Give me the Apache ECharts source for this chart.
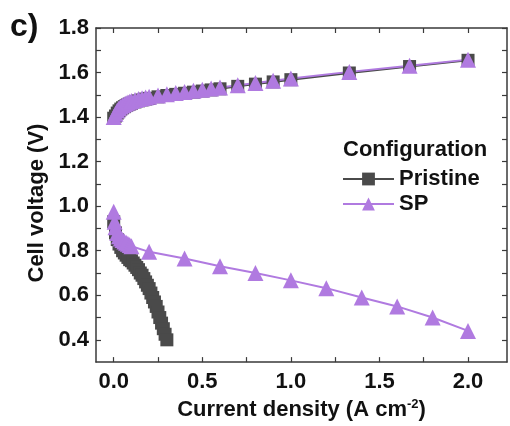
<!DOCTYPE html>
<html>
<head>
<meta charset="utf-8">
<script src="https://cdn.jsdelivr.net/npm/echarts@6/dist/echarts.min.js"></script>
<style>
  html, body { margin: 0; padding: 0; background: #fff; }
  #chart { width: 510px; height: 426px; }
</style>
</head>
<body>
<div id="chart"></div>
<script>
// electrolysis branch (upper curves), both configurations share the currents
const ecCurrent = [0, 0.01, 0.02, 0.03, 0.04, 0.05, 0.06, 0.07, 0.08, 0.09, 0.10, 0.12, 0.14, 0.16, 0.18, 0.20,
  0.25, 0.30, 0.35, 0.40, 0.45, 0.50, 0.55, 0.60, 0.70, 0.80, 0.90, 1.00, 1.33, 1.67, 2.00];
const pristineEcVoltage = [1.395, 1.405, 1.418, 1.428, 1.436, 1.442, 1.447, 1.452, 1.456, 1.459, 1.462, 1.468, 1.473,
  1.477, 1.481, 1.484, 1.491, 1.497, 1.502, 1.507, 1.512, 1.517, 1.522, 1.527, 1.538, 1.548, 1.558, 1.568, 1.598, 1.627, 1.655];
const spEcVoltage = [1.40, 1.415, 1.43, 1.44, 1.447, 1.453, 1.458, 1.462, 1.466, 1.469, 1.472, 1.477, 1.481,
  1.485, 1.488, 1.491, 1.497, 1.503, 1.508, 1.513, 1.518, 1.523, 1.528, 1.533, 1.543, 1.553, 1.563, 1.573, 1.603, 1.630, 1.658];

// fuel cell branch (lower curves)
const pristineFcCurrent = [0, 0.01, 0.02, 0.03, 0.04, 0.05, 0.06, 0.07, 0.08, 0.09, 0.10, 0.11, 0.12, 0.13, 0.14, 0.15,
  0.16, 0.17, 0.18, 0.19, 0.20, 0.21, 0.22, 0.23, 0.24, 0.25, 0.26, 0.27, 0.28, 0.29, 0.30];
const pristineFcVoltage = [0.93, 0.88, 0.85, 0.83, 0.815, 0.80, 0.79, 0.78, 0.77, 0.76, 0.755, 0.745, 0.735, 0.725, 0.715, 0.70,
  0.69, 0.675, 0.66, 0.645, 0.63, 0.61, 0.59, 0.57, 0.55, 0.525, 0.50, 0.475, 0.45, 0.425, 0.40];
const spFcCurrent = [0, 0.005, 0.01, 0.02, 0.03, 0.04, 0.05, 0.06, 0.07, 0.08, 0.09, 0.10,
  0.2, 0.4, 0.6, 0.8, 1.0, 1.2, 1.4, 1.6, 1.8, 2.0];
const spFcVoltage = [0.975, 0.93, 0.905, 0.88, 0.865, 0.855, 0.848, 0.842, 0.836, 0.831, 0.826, 0.82,
  0.795, 0.765, 0.73, 0.70, 0.667, 0.632, 0.59, 0.55, 0.50, 0.44];

const xTickValues = [0, 0.25, 0.5, 0.75, 1.0, 1.25, 1.5, 1.75, 2.0];
const xLabelValues = [0, 0.5, 1.0, 1.5, 2.0];
const yTickValues = [0.4, 0.5, 0.6, 0.7, 0.8, 0.9, 1.0, 1.1, 1.2, 1.3, 1.4, 1.5, 1.6, 1.7, 1.8];
const yLabelValues = [0.4, 0.6, 0.8, 1.0, 1.2, 1.4, 1.6, 1.8];

const FONT = "'Liberation Sans', Arial, sans-serif";
const AXIS_COLOR = "#3a3a3a";
const PRISTINE_COLOR = "#4a4a4a";
const SP_COLOR = "#b07ae0";

const zip = (xs, ys) => xs.map((x, i) => [x, ys[i]]);

function frameAxis(extra) {
  return Object.assign({
    type: "value",
    axisLine: { show: true, onZero: false, lineStyle: { color: AXIS_COLOR, width: 1.5 } },
    splitLine: { show: false },
  }, extra);
}

function ticks(values) {
  return { show: true, inside: true, length: 5, customValues: values, lineStyle: { color: AXIS_COLOR, width: 1.2 } };
}

const chart = echarts.init(document.getElementById("chart"));

chart.setOption({
  animation: false,
  backgroundColor: "#fff",
  grid: { left: 96, right: 3, top: 28, bottom: 63 },
  title: {
    text: "Configuration",
    left: 338,
    top: 134,
    textStyle: { fontFamily: FONT, fontWeight: "bold", fontSize: 22, color: "#111" },
  },
  graphic: [
    {
      type: "text",
      left: 10,
      top: 11,
      style: { text: "c)", font: "bold 32px " + FONT, fill: "#111" },
    },
  ],
  legend: {
    data: ["Pristine", "SP"],
    orient: "vertical",
    left: 337,
    top: 163,
    itemWidth: 51,
    itemHeight: 16,
    itemGap: 3,
    textStyle: { fontFamily: FONT, fontWeight: "bold", fontSize: 22, color: "#111" },
  },
  xAxis: [
    frameAxis({
      position: "bottom",
      min: -0.1,
      max: 2.22,
      name: "Current density (A cm{sup|-2})",
      nameLocation: "middle",
      nameGap: 35,
      nameTextStyle: {
        fontFamily: FONT, fontWeight: "bold", fontSize: 22, color: "#111",
        rich: { sup: { fontFamily: FONT, fontWeight: "bold", fontSize: 13, color: "#111", padding: [0, 0, 11, 0] } },
      },
      axisTick: ticks(xTickValues),
      axisLabel: {
        customValues: xLabelValues,
        margin: 9,
        fontFamily: FONT, fontWeight: "bold", fontSize: 22, color: "#111",
        formatter: (v) => v.toFixed(1),
      },
    }),
    frameAxis({
      position: "top",
      min: -0.1,
      max: 2.22,
      axisTick: ticks(xTickValues),
      axisLabel: { show: false },
    }),
  ],
  yAxis: [
    frameAxis({
      position: "left",
      min: 0.3,
      max: 1.8,
      name: "Cell voltage (V)",
      nameLocation: "middle",
      nameGap: 45,
      nameTextStyle: { fontFamily: FONT, fontWeight: "bold", fontSize: 22, color: "#111", padding: [0, 16, 0, 0] },
      axisTick: ticks(yTickValues),
      axisLabel: {
        customValues: yLabelValues,
        margin: 7,
        fontFamily: FONT, fontWeight: "bold", fontSize: 22, color: "#111",
        formatter: (v) => v.toFixed(1),
      },
    }),
    frameAxis({
      position: "right",
      min: 0.3,
      max: 1.8,
      axisTick: ticks(yTickValues),
      axisLabel: { show: false },
    }),
  ],
  series: [
    {
      name: "Pristine",
      type: "line",
      symbol: "rect",
      symbolSize: 13,
      color: PRISTINE_COLOR,
      lineStyle: { color: PRISTINE_COLOR, width: 2 },
      data: zip(ecCurrent, pristineEcVoltage),
    },
    {
      name: "Pristine",
      type: "line",
      symbol: "rect",
      symbolSize: 13,
      color: PRISTINE_COLOR,
      lineStyle: { color: PRISTINE_COLOR, width: 2 },
      data: zip(pristineFcCurrent, pristineFcVoltage),
    },
    {
      name: "SP",
      type: "line",
      symbol: "triangle",
      symbolSize: 16,
      color: SP_COLOR,
      lineStyle: { color: SP_COLOR, width: 2 },
      data: zip(ecCurrent, spEcVoltage),
    },
    {
      name: "SP",
      type: "line",
      symbol: "triangle",
      symbolSize: 16,
      color: SP_COLOR,
      lineStyle: { color: SP_COLOR, width: 2 },
      data: zip(spFcCurrent, spFcVoltage),
    },
  ],
});
</script>
</body>
</html>
